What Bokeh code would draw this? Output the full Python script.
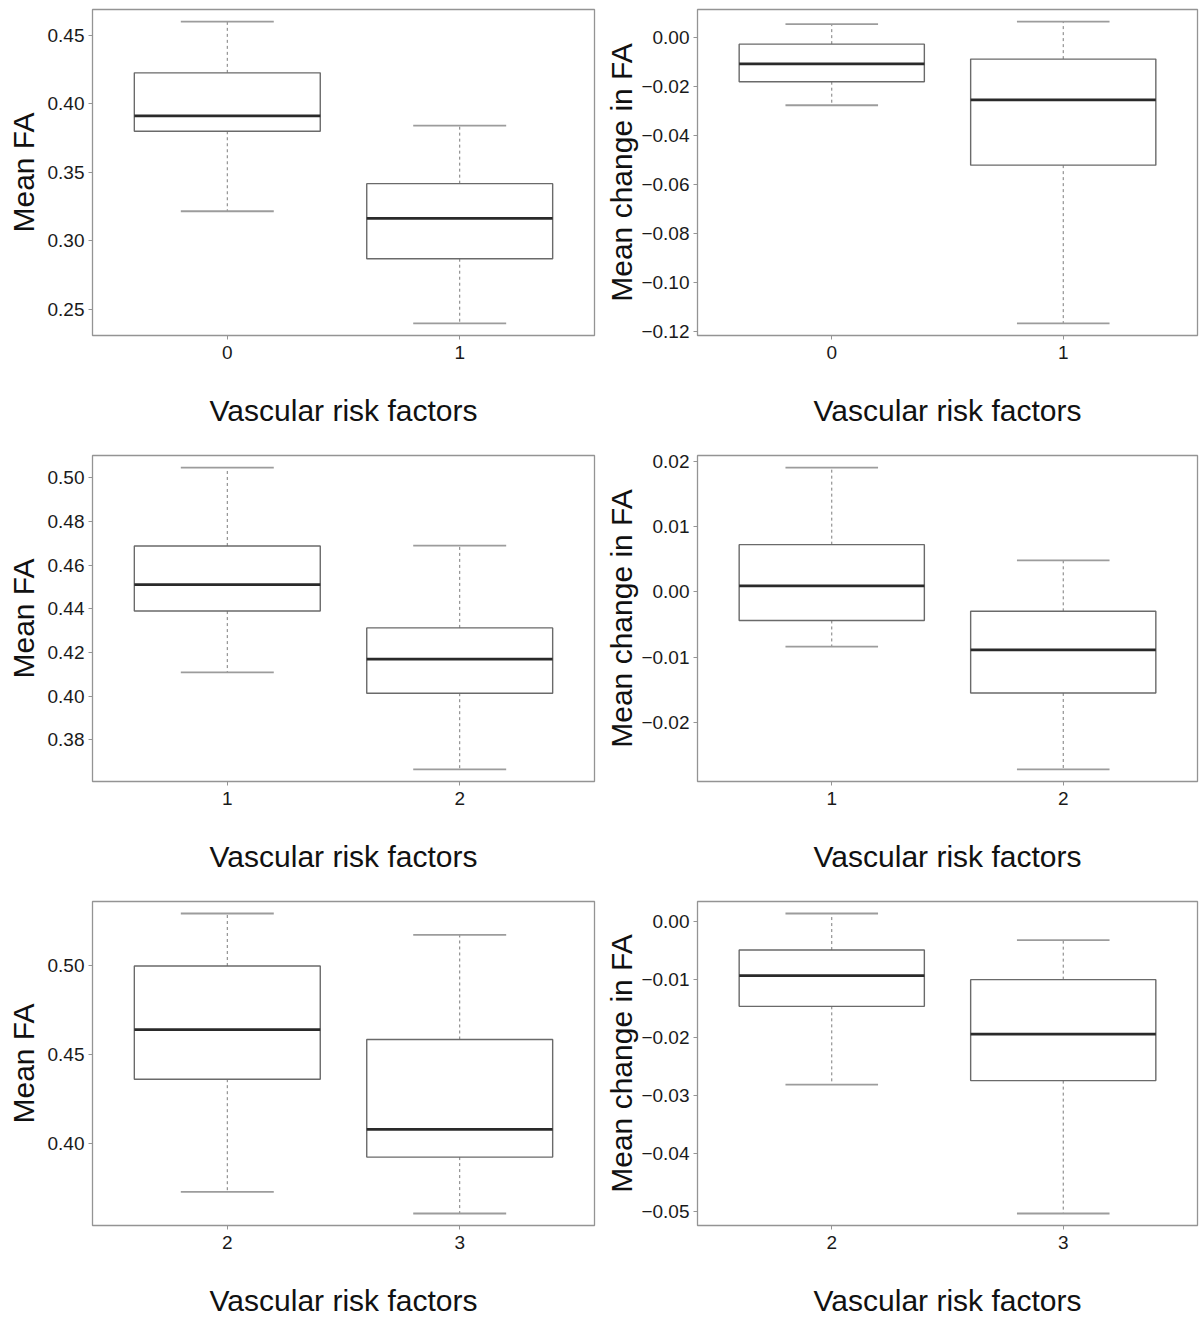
import numpy as np
from bokeh.plotting import figure
from bokeh.layouts import column, row
from bokeh.models import Range1d, FixedTicker, CustomJSTickFormatter
from bokeh.embed import file_html
from bokeh.resources import INLINE

FONT = "Liberation Sans"

# ---------------- data ----------------
x_label = "Vascular risk factors"

p1_groups = ["0", "1"]
p1_upper = [0.4602, 0.3841]
p1_q3 = [0.4227, 0.3417]
p1_median = [0.3912, 0.3163]
p1_q1 = [0.3800, 0.2868]
p1_lower = [0.3215, 0.2395]
p1_yticks = [0.25, 0.30, 0.35, 0.40, 0.45]
p1_ylabel = "Mean FA"

p2_groups = ["0", "1"]
p2_upper = [0.0053, 0.0063]
p2_q3 = [-0.0029, -0.0090]
p2_median = [-0.0109, -0.0256]
p2_q1 = [-0.0182, -0.0522]
p2_lower = [-0.0278, -0.1167]
p2_yticks = [-0.12, -0.10, -0.08, -0.06, -0.04, -0.02, 0.00]
p2_ylabel = "Mean change in FA"

p3_groups = ["1", "2"]
p3_upper = [0.5047, 0.4690]
p3_q3 = [0.4688, 0.4313]
p3_median = [0.4511, 0.4170]
p3_q1 = [0.4390, 0.4014]
p3_lower = [0.4109, 0.3665]
p3_yticks = [0.38, 0.40, 0.42, 0.44, 0.46, 0.48, 0.50]
p3_ylabel = "Mean FA"

p4_groups = ["1", "2"]
p4_upper = [0.0190, 0.0048]
p4_q3 = [0.0072, -0.0030]
p4_median = [0.0009, -0.0089]
p4_q1 = [-0.0044, -0.0155]
p4_lower = [-0.0084, -0.0272]
p4_yticks = [-0.02, -0.01, 0.00, 0.01, 0.02]
p4_ylabel = "Mean change in FA"

p5_groups = ["2", "3"]
p5_upper = [0.5294, 0.5174]
p5_q3 = [0.4998, 0.4584]
p5_median = [0.4639, 0.4077]
p5_q1 = [0.4360, 0.3921]
p5_lower = [0.3725, 0.3603]
p5_yticks = [0.40, 0.45, 0.50]
p5_ylabel = "Mean FA"

p6_groups = ["2", "3"]
p6_upper = [0.0014, -0.0032]
p6_q3 = [-0.0049, -0.0100]
p6_median = [-0.0093, -0.0194]
p6_q1 = [-0.0146, -0.0274]
p6_lower = [-0.0281, -0.0503]
p6_yticks = [-0.05, -0.04, -0.03, -0.02, -0.01, 0.00]
p6_ylabel = "Mean change in FA"

# ---------------- styling ----------------
FRAME = "#949494"
BOX = "#6a6a6a"
MED = "#2a2a2a"
WHISK = "#7c7c7c"
CAP = "#9c9c9c"


def make_panel(groups, upper, q3, med, q1, lower, yticks, ylabel,
               width, height, border_left, border_right, border_top,
               border_bottom, ylab_standoff, xlab_standoff):
    n = len(groups)
    pos = np.arange(1, n + 1, dtype=float)
    xpad = 0.04 * n
    lo, hi = min(lower), max(upper)
    ypad = 0.04 * (hi - lo)

    p = figure(width=width, height=height, output_backend="svg",
               toolbar_location=None,
               x_range=Range1d(0.5 - xpad, n + 0.5 + xpad),
               y_range=Range1d(lo - ypad, hi + ypad),
               min_border_left=border_left, min_border_right=border_right,
               min_border_top=border_top, min_border_bottom=border_bottom)
    p.xgrid.visible = False
    p.ygrid.visible = False
    p.outline_line_color = FRAME
    p.outline_line_width = 1.3
    p.background_fill_color = "white"
    p.border_fill_color = "white"

    up = np.array(upper); lw = np.array(lower)
    a3 = np.array(q3); a1 = np.array(q1); md = np.array(med)

    # whiskers
    p.segment(x0=pos, y0=a3, x1=pos, y1=up, line_color=WHISK,
              line_width=1, line_dash="3 3")
    p.segment(x0=pos, y0=a1, x1=pos, y1=lw, line_color=WHISK,
              line_width=1, line_dash="3 3")
    # staples
    p.segment(x0=pos - 0.2, y0=up, x1=pos + 0.2, y1=up,
              line_color=CAP, line_width=1.8)
    p.segment(x0=pos - 0.2, y0=lw, x1=pos + 0.2, y1=lw,
              line_color=CAP, line_width=1.8)
    # boxes
    p.vbar(x=pos, width=0.8, bottom=a1, top=a3, fill_color="white",
           line_color=BOX, line_width=1.4)
    # medians
    p.segment(x0=pos - 0.4, y0=md, x1=pos + 0.4, y1=md,
              line_color=MED, line_width=2.8)

    # axes
    xa = p.xaxis[0]
    xa.ticker = FixedTicker(ticks=list(pos))
    xa.major_label_overrides = {float(v): g for v, g in zip(pos, groups)}
    xa.axis_label = x_label
    xa.axis_label_standoff = xlab_standoff

    ya = p.yaxis[0]
    ya.ticker = FixedTicker(ticks=yticks)
    ya.formatter = CustomJSTickFormatter(
        code="return tick.toFixed(2).replace('-', '\\u2212');")
    ya.axis_label = ylabel
    ya.axis_label_standoff = ylab_standoff

    for ax in (xa, ya):
        ax.axis_line_color = None
        ax.major_tick_line_color = FRAME
        ax.major_tick_out = 4
        ax.major_tick_in = 0
        ax.minor_tick_line_color = None
        ax.major_label_text_font = FONT
        ax.major_label_text_font_size = "19px"
        ax.major_label_text_color = "#1a1a1a"
        ax.axis_label_text_font = FONT
        ax.axis_label_text_font_size = "30px"
        ax.axis_label_text_font_style = "normal"
        ax.axis_label_text_color = "#111111"
    xa.major_label_standoff = 6
    ya.major_label_standoff = 4
    return p


LW, RW = 600, 599
H12, H3 = 446, 427

p1 = make_panel(p1_groups, p1_upper, p1_q3, p1_median, p1_q1, p1_lower,
                p1_yticks, p1_ylabel, LW, H12, 92, 6, 9, 111, 5, 32)
p2 = make_panel(p2_groups, p2_upper, p2_q3, p2_median, p2_q1, p2_lower,
                p2_yticks, p2_ylabel, RW, H12, 97, 2, 9, 111, 0, 32)
p3 = make_panel(p3_groups, p3_upper, p3_q3, p3_median, p3_q1, p3_lower,
                p3_yticks, p3_ylabel, LW, H12, 92, 6, 9, 111, 5, 32)
p4 = make_panel(p4_groups, p4_upper, p4_q3, p4_median, p4_q1, p4_lower,
                p4_yticks, p4_ylabel, RW, H12, 97, 2, 9, 111, 0, 32)
p5 = make_panel(p5_groups, p5_upper, p5_q3, p5_median, p5_q1, p5_lower,
                p5_yticks, p5_ylabel, LW, H3, 92, 6, 9, 93, 5, 32)
p6 = make_panel(p6_groups, p6_upper, p6_q3, p6_median, p6_q1, p6_lower,
                p6_yticks, p6_ylabel, RW, H3, 97, 2, 9, 93, 0, 32)

layout = column(row(p1, p2), row(p3, p4), row(p5, p6), spacing=0)

open("out.html", "w").write(file_html(layout, INLINE))
